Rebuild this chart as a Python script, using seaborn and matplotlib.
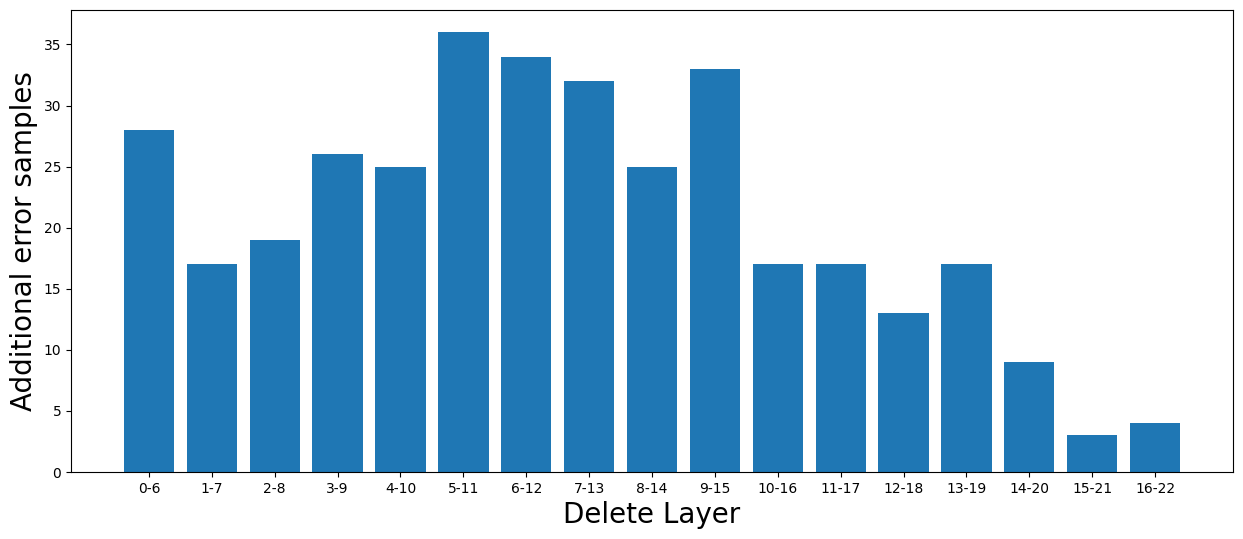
import pandas as pd
import seaborn as sns
import matplotlib.pyplot as plt

# Данные
layers = ['0-6', '1-7', '2-8', '3-9', '4-10', '5-11', '6-12', '7-13', '8-14',
          '9-15', '10-16', '11-17', '12-18', '13-19', '14-20', '15-21', '16-22']
errors = [28, 17, 19, 26, 25, 36, 34, 32, 25, 33, 17, 17, 13, 17, 9, 3, 4]

data = pd.DataFrame({'layer': layers, 'errors': errors})

# Построение столбчатой диаграммы
fig, ax = plt.subplots(figsize=(12.43, 5.39), dpi=100)
sns.barplot(data=data, x='layer', y='errors', color='#1f77b4', saturation=1,
            width=0.8, ax=ax)

# Границы осей как у matplotlib bar по умолчанию
ax.set_xlim(-0.4 - 0.84, len(layers) - 1 + 0.4 + 0.84)
ax.set_ylim(0, max(errors) * 1.05)

ax.set_xlabel('Delete Layer', fontsize=20)
ax.set_ylabel('Additional error samples', fontsize=20)

plt.subplots_adjust(left=0.0571, right=0.992, top=0.981, bottom=0.1243)
plt.savefig('out.png')
